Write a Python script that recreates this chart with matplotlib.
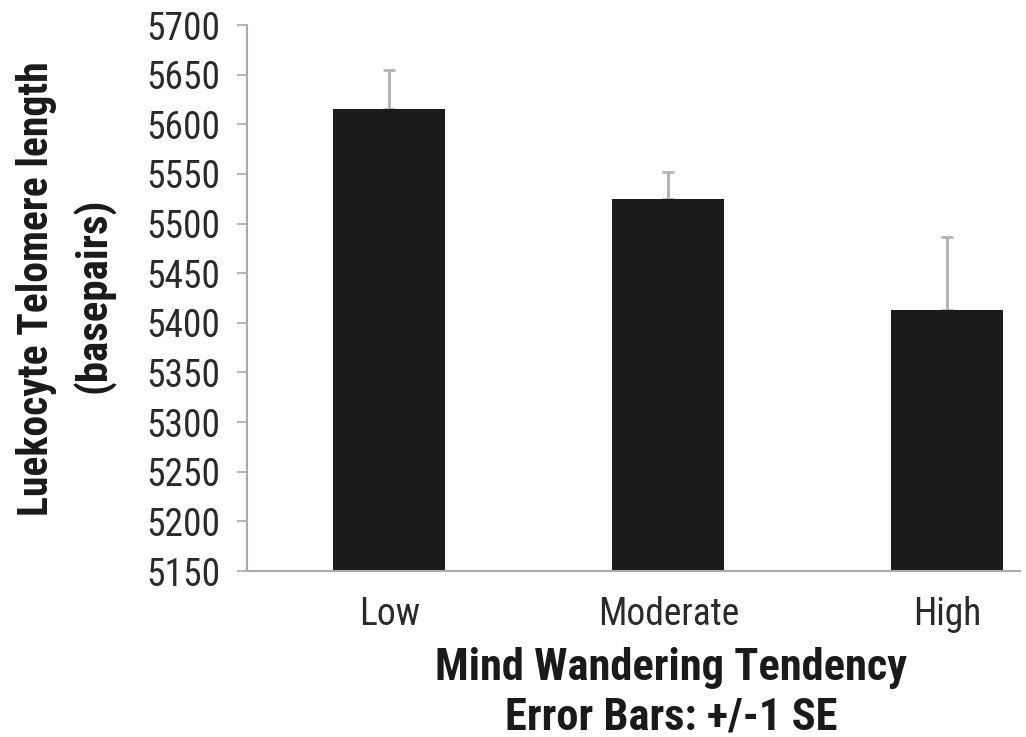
import matplotlib; matplotlib.use("Agg")
import matplotlib.pyplot as plt
from matplotlib import font_manager as fm

groups = ["Low", "Moderate", "High"]
means = [5615, 5525, 5413]
se_up = [40, 27, 73]

# a condensed sans, close to the Helvetica Condensed of the original
have = {f.name for f in fm.fontManager.ttflist}
cond = next((n for n in ["Roboto Condensed", "Archivo Narrow", "IBM Plex Sans Condensed",
                         "Open Sans Condensed"] if n in have), "DejaVu Sans")
plt.rcParams["font.family"] = [cond, "DejaVu Sans"]

fig = plt.figure(figsize=(10.26, 7.37), dpi=100)
ax = fig.add_axes([0.2407, 0.2252, 0.994 - 0.2407, 0.966 - 0.2252])

x = range(len(groups))
ax.bar(x, [m - 5150 for m in means], bottom=5150, width=0.4, color="#1b1c19", zorder=2)
ax.errorbar(x, means, yerr=[[0, 0, 0], se_up], fmt="none", ecolor="#b4b4b4",
            elinewidth=2.2, capsize=4.5, capthick=2, zorder=1)

ax.set_ylim(5150, 5700)
ax.set_xlim(-0.51, 2.26)
ax.set_yticks(range(5150, 5701, 50))
ax.set_xticks(list(x))
ax.set_xticklabels(groups)
ax.tick_params(axis="y", labelsize=27, labelcolor="#2a2a2a", length=7, width=1.2, color="#aaaaaa", pad=12)
ax.tick_params(axis="x", labelsize=27, labelcolor="#2a2a2a", length=0, pad=18)
for s in ("top", "right"):
    ax.spines[s].set_visible(False)
for s in ("left", "bottom"):
    ax.spines[s].set_color("#aaaaaa")
    ax.spines[s].set_linewidth(1.5)

lab = dict(fontweight="bold", color="#1a1a1a", ha="center", va="center")
fig.text(37/1026, 1 - 289/737, "Luekocyte Telomere length", rotation=90, fontsize=30, **lab)
fig.text(94/1026, 1 - 295/737, "(basepairs)", rotation=90, fontsize=31, **lab)
fig.text(671/1026, 1 - 668/737, "Mind Wandering Tendency", fontsize=32, **lab)
fig.text(671/1026, 1 - 718/737, "Error Bars: +/-1 SE", fontsize=32, **lab)

fig.savefig("out.png", dpi=100)
